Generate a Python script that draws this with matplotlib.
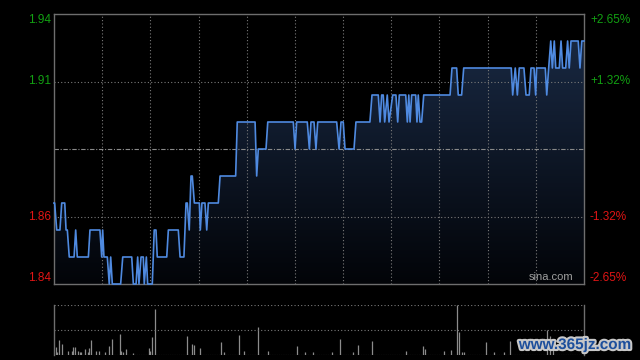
import matplotlib.pyplot as plt
import matplotlib.patheffects as pe
import numpy as np
from matplotlib.colors import LinearSegmentedColormap

plt.rcParams['font.family'] = ['Liberation Sans', 'DejaVu Sans']

# intraday price: minutes since open (0..330) and price at each turning point
t = [0, 0.4, 1.7, 3.7, 4.8, 6.7, 7.5, 8.3, 9.5, 12.5, 13.5, 14.5, 21.4, 22.4, 28.6,
     29.7, 30.3, 31.1, 33.2, 34.4, 35.3, 36.3, 41.5, 42.8, 48.4, 49.4, 51.1, 52.1,
     52.9, 54.2, 55.6, 56.2, 57.5, 58.3, 61.2, 62.4, 63.5, 64.3, 70.2, 71.2, 77.4,
     78.5, 80.9, 82.2, 83.0, 84.2, 85.3, 86.1, 87.4, 90.5, 91.1, 92.1, 94.0, 95.1,
     96.1, 102.3, 103.4, 113.1, 114.1, 125.2, 126.2, 127.2, 132.0, 133.1, 149.0,
     150.1, 151.1, 157.7, 159.0, 160.0, 161.9, 163.1, 164.2, 176.0, 177.5, 178.7,
     180.1, 181.2, 186.8, 188.0, 196.7, 198.0, 201.9, 203.0, 204.0, 205.0, 205.9,
     207.5, 208.6, 210.9, 212.9, 214.0, 215.0, 219.0, 220.0, 220.9, 221.7, 222.7,
     225.2, 226.0, 226.8, 227.9, 228.9, 230.2, 246.6, 247.8, 250.7, 251.7, 253.8,
     255.1, 284.7, 285.6, 287.2, 288.5, 289.7, 292.6, 293.9, 295.9, 297.0, 298.9,
     299.9, 300.5, 305.9, 306.8, 308.0, 309.3, 310.3, 311.5, 312.4, 314.6, 315.7,
     316.7, 318.6, 319.8, 320.8, 321.9, 326.4, 327.5, 328.6, 330]
price = [1.87, 1.87, 1.86, 1.86, 1.87, 1.87, 1.86, 1.86, 1.85, 1.85, 1.86, 1.85, 1.85,
         1.86, 1.86, 1.85, 1.86, 1.85, 1.85, 1.84, 1.85, 1.84, 1.84, 1.85, 1.85, 1.84,
         1.84, 1.85, 1.84, 1.85, 1.85, 1.84, 1.85, 1.84, 1.84, 1.86, 1.86, 1.85, 1.85,
         1.86, 1.86, 1.85, 1.85, 1.87, 1.87, 1.86, 1.88, 1.88, 1.87, 1.87, 1.86, 1.87,
         1.87, 1.86, 1.87, 1.87, 1.88, 1.88, 1.90, 1.90, 1.88, 1.89, 1.89, 1.90, 1.90,
         1.89, 1.90, 1.90, 1.89, 1.90, 1.90, 1.89, 1.90, 1.90, 1.89, 1.90, 1.90, 1.89,
         1.89, 1.90, 1.90, 1.91, 1.91, 1.90, 1.91, 1.91, 1.90, 1.91, 1.90, 1.91, 1.91,
         1.90, 1.91, 1.91, 1.90, 1.91, 1.90, 1.91, 1.91, 1.90, 1.91, 1.90, 1.90, 1.91,
         1.91, 1.92, 1.92, 1.91, 1.91, 1.92, 1.92, 1.91, 1.92, 1.91, 1.92, 1.92, 1.91,
         1.91, 1.92, 1.92, 1.91, 1.92, 1.92, 1.91, 1.92, 1.93, 1.92, 1.93, 1.92, 1.92,
         1.93, 1.92, 1.92, 1.93, 1.92, 1.93, 1.93, 1.92, 1.93, 1.93]

prev_close = 1.89
y_lo, y_hi = 1.84, 1.94
left_labels = ['1.94', '1.91', '1.86', '1.84']
right_labels = ['+2.65%', '+1.32%', '-1.32%', '-2.65%']
label_vals = [1.94, 1.915, 1.865, 1.84]

# volume bars (minute, relative height 0..100)
vol_t = [1, 2, 3, 5, 9, 11, 12, 13, 15, 16, 17, 19, 21, 22, 23, 26, 28, 32, 34, 36,
         41, 42, 43, 45, 49, 59, 60, 61, 63, 83, 86, 87, 91, 104, 106, 115, 118, 127,
         133, 151, 156, 161, 173, 178, 186, 189, 198, 219, 230, 231, 243, 247, 251,
         252, 254, 255, 269, 274, 280, 284, 307, 309, 311]
vol_v = [16, 5, 30, 22, 8, 8, 16, 16, 8, 6, 6, 11, 5, 14, 30, 8, 8, 5, 18, 32,
         42, 8, 5, 12, 3, 14, 7, 36, 91, 38, 22, 20, 14, 26, 5, 40, 8, 56,
         7, 18, 5, 6, 6, 32, 6, 20, 28, 8, 18, 12, 8, 10, 100,
         46, 6, 5, 26, 6, 6, 28, 50, 38, 30]

grid_c = '#7a7a7a'
frame_c = '#6e6e6e'

fig = plt.figure(figsize=(6.4, 3.6), dpi=100, facecolor='black')
ax = fig.add_axes([54 / 640, 76 / 360, 530 / 640, 270 / 360], facecolor='black')
ax2 = fig.add_axes([54 / 640, 5 / 360, 530 / 640, 50.3 / 360], facecolor='black')

# gradient area under the price line
cmap = LinearSegmentedColormap.from_list('fill', ['#020408', '#1b2c48'])
grad = np.linspace(0, 1, 256).reshape(-1, 1)
im = ax.imshow(grad, extent=[0, 330, y_lo, y_hi], aspect='auto', cmap=cmap,
               origin='lower', zorder=1)
poly = ax.fill_between(t, price, y_lo, facecolor='none', linewidth=0)
im.set_clip_path(poly.get_paths()[0], transform=ax.transData)

ax.plot(t, price, color='#4f8ae0', lw=1.2, zorder=4, clip_on=False)

# grid
for x in range(30, 330, 30):
    ax.axvline(x, color=grid_c, lw=0.8, ls=(0, (1, 2)), zorder=2)
for y in [1.915, 1.865]:
    ax.axhline(y, color=grid_c, lw=0.8, ls=(0, (1, 2)), zorder=2)
ax.axhline(prev_close, color='#8a8a8a', lw=0.8, ls=(0, (4, 1.5, 1, 1.5)), zorder=2)

ax.set_xlim(0, 330)
ax.set_ylim(y_lo, y_hi)
ax.set_xticks([])
ax.set_yticks([])
for s in ax.spines.values():
    s.set_color(frame_c)
    s.set_linewidth(1)

for lab, rlab, v in zip(left_labels, right_labels, label_vals):
    c = '#12a012' if v > prev_close else '#e01515'
    va = 'center'
    dy = 0
    if v == y_hi:
        dy = -6
    elif v == y_lo:
        dy = 6
    yy = ax.transData.transform((0, v))[1] + dy
    yf = yy / 360
    fig.text(51 / 640, yf, lab, color=c, fontsize=8.5, ha='right', va='center')
    fig.text(590 / 640, yf, rlab, color=c, fontsize=8.5, ha='left', va='center')

ax.text(0.979, 0.008, 'sina.com', transform=ax.transAxes, color='#a0a0a0',
        fontsize=8, ha='right', va='bottom', zorder=5)

# volume panel
ax2.vlines(vol_t, 0, vol_v, color='#8c8c8c', lw=0.9)
ax2.axhline(50, color=grid_c, lw=0.8, ls=(0, (1, 2)))
ax2.axhline(100, color=grid_c, lw=0.8, ls=(0, (1, 2)))
ax2.axhline(0, color=grid_c, lw=0.8, ls=(0, (1, 1)))
ax2.set_xlim(0, 330)
ax2.set_ylim(0, 100)
ax2.set_xticks([])
ax2.set_yticks([])
for k, s in ax2.spines.items():
    if k in ('left', 'right'):
        s.set_color(frame_c)
        s.set_linewidth(1)
    else:
        s.set_visible(False)

fig.text(575 / 640, 15 / 360, 'www.365jz.com', color='#1d4f9c', fontsize=11,
         fontweight='bold', ha='center', va='center',
         path_effects=[pe.withStroke(linewidth=3, foreground='#c8c8c8')])

fig.savefig('out.png', dpi=100, facecolor='black')
